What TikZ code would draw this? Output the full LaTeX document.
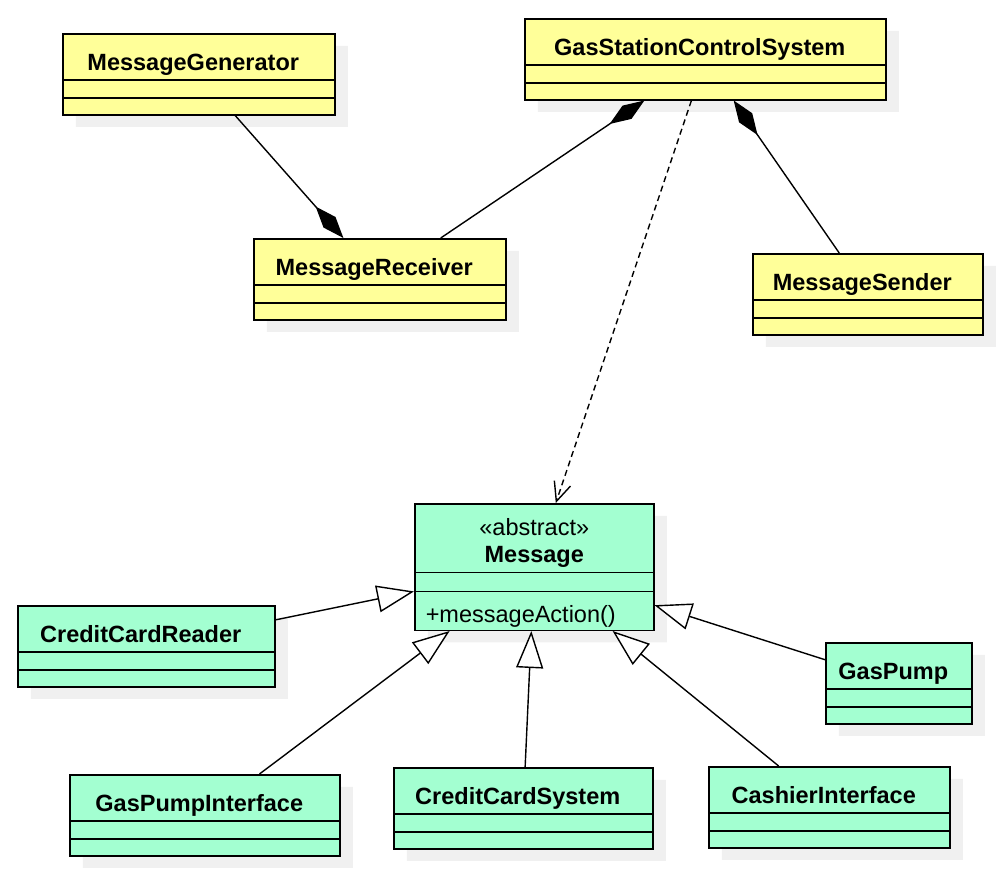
\documentclass[tikz,border=0pt]{standalone}
\usepackage{fontspec}
\setmainfont{Liberation Sans}
\usetikzlibrary{shapes.multipart,shadows,arrows.meta}

\definecolor{classyellow}{RGB}{255,255,153}
\definecolor{classgreen}{RGB}{163,255,209}
\definecolor{shadowgray}{RGB}{240,240,240}

% title compartment and the two empty ones
\newcommand{\umltitle}[1]{\rule[-9pt]{0pt}{44.5pt}\textbf{#1}\kern11pt}
\newcommand{\umlempty}{\nodepart{two}\rule{0pt}{16.5pt}\nodepart{three}\rule{0pt}{15.5pt}}

\begin{document}
\begin{tikzpicture}[x=1pt, y=-1pt]
	\useasboundingbox (0,0) rectangle (1000,873);
	\tikzstyle{umlclass} = [rectangle split, rectangle split parts=3, draw, line width=1.5pt,
		anchor=north west, inner xsep=0pt, inner ysep=0pt, align=center,
		font=\fontsize{23.5}{27}\selectfont,
		drop shadow={shadow xshift=13pt, shadow yshift=-12pt, fill=shadowgray, opacity=1}]
	\tikzstyle{yellowclass} = [umlclass, fill=classyellow]
	\tikzstyle{greenclass} = [umlclass, fill=classgreen]
	\tikzstyle{composition} = [line width=1.4pt, -{Diamond[length=42pt, width=16pt]}]
	\tikzstyle{dependency} = [line width=1.4pt, dash pattern=on 6pt off 4pt, -{Straight Barb[length=19pt, width=17pt]}]
	\tikzstyle{inherits} = [line width=1.4pt, -{Triangle[open, length=37pt, width=27pt, fill=white]}]
	\node[yellowclass, text width=272pt] (generator) at (62, 33) {\umltitle{MessageGenerator}\umlempty};
	\node[yellowclass, text width=361pt] (control) at (524, 18) {\umltitle{GasStationControlSystem}\umlempty};
	\node[yellowclass, text width=252pt] (receiver) at (253, 238) {\umltitle{MessageReceiver}\umlempty};
	\node[yellowclass, text width=230pt] (sender) at (752, 253) {\umltitle{MessageSender}\umlempty};
	\node[greenclass, text width=239pt] (message) at (414, 503) {\rule{0pt}{31pt}«abstract»\\\textbf{Message}\rule[-9pt]{0pt}{9pt}
		\nodepart{two}\rule{0pt}{17.5pt}
		\nodepart{three}\makebox[239pt][l]{\kern11pt\rule[-7pt]{0pt}{37.5pt}+messageAction()}};
	\node[greenclass, text width=257pt] (cardreader) at (17, 605) {\umltitle{CreditCardReader}\umlempty};
	\node[greenclass, text width=146pt] (pump) at (825, 642) {\umltitle{GasPump}\umlempty};
	\node[greenclass, text width=270pt] (pumpiface) at (69, 774) {\umltitle{GasPumpInterface}\umlempty};
	\node[greenclass, text width=259pt] (cardsystem) at (393, 767) {\umltitle{CreditCardSystem}\umlempty};
	\node[greenclass, text width=241pt] (cashier) at (708, 766) {\umltitle{CashierInterface}\umlempty};
	\draw[composition] (generator)--(receiver);
	\draw[composition] (receiver)--(control);
	\draw[composition] (sender)--(control);
	\draw[dependency] (control)--(message);
	\draw[inherits] (cardreader)--(message);
	\draw[inherits] (pump)--(message);
	\draw[inherits] (pumpiface)--(message);
	\draw[inherits] (cardsystem)--(message);
	\draw[inherits] (cashier)--(message);
\end{tikzpicture}
\end{document}
